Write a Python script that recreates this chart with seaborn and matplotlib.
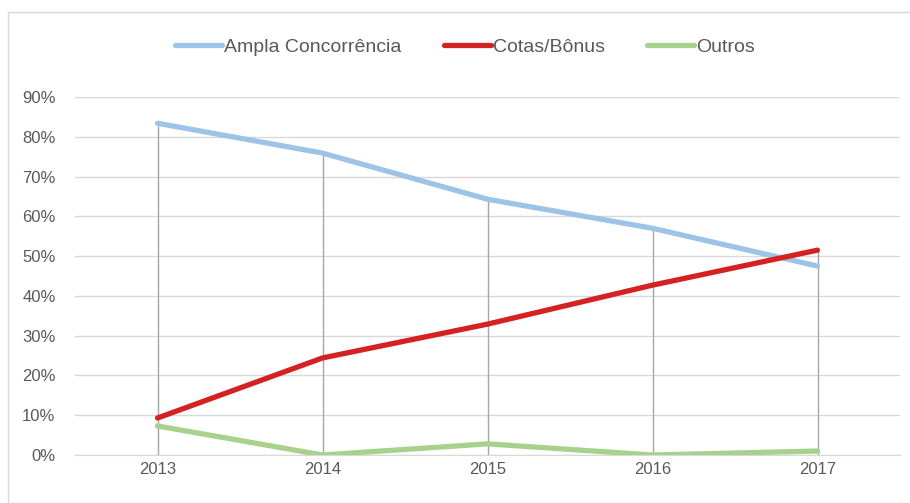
import pandas as pd
import matplotlib.pyplot as plt
import seaborn as sns

anos = [2013, 2014, 2015, 2016, 2017]
ampla = [0.834, 0.759, 0.643, 0.570, 0.475]
cotas = [0.093, 0.244, 0.329, 0.427, 0.515]
outros = [0.073, 0.0, 0.028, 0.0, 0.010]

series = ['Ampla Concorrência', 'Cotas/Bônus', 'Outros']
cores = ['#9DC3E6', '#D42121', '#A9D18E']

df = pd.DataFrame({
    'Ano': anos * 3,
    'Valor': ampla + cotas + outros,
    'Serie': [s for s in series for _ in anos],
})

sns.set_style('white')
plt.rcParams['font.family'] = ['Liberation Sans Narrow', 'Liberation Sans', 'DejaVu Sans']

fig = plt.figure(figsize=(9.1, 5.03), dpi=100)
fig.patches.append(plt.Rectangle((8 / 910, 0), 1, 1 - 12 / 503, transform=fig.transFigure,
                                 fill=False, edgecolor='#D9D9D9', linewidth=1))
ax = fig.add_axes([75 / 910, 1 - 455 / 503, 825 / 910, (455 - 97) / 503])

# linhas de queda (drop lines)
topo = [max(a, c, o) for a, c, o in zip(ampla, cotas, outros)]
ax.vlines(anos, 0, topo, color='#A6A6A6', linewidth=1, zorder=1)

sns.lineplot(data=df, x='Ano', y='Valor', hue='Serie', hue_order=series,
             palette=cores, linewidth=3.8, ax=ax, zorder=3)

ax.set_xlim(2012.5, 2017.5)
ax.set_ylim(0, 0.9)
ax.set_yticks([i / 10 for i in range(10)])
ax.set_yticklabels([f'{i * 10}%' for i in range(10)])
ax.set_xticks(anos)
ax.yaxis.grid(True, color='#D9D9D9', linewidth=1)
ax.set_axisbelow(True)
for s in ['top', 'right', 'left']:
    ax.spines[s].set_visible(False)
ax.spines['bottom'].set_color('#D9D9D9')
ax.tick_params(axis='both', colors='#595959', labelsize=12, length=0)
ax.tick_params(axis='x', pad=5)
ax.tick_params(axis='y', pad=14)
ax.set_xlabel('')
ax.set_ylabel('')

leg = ax.legend(loc='center', bbox_to_anchor=(465 / 910, 1 - 47 / 503), bbox_transform=fig.transFigure,
                ncol=3, frameon=False, fontsize=14, handlelength=2.4, handletextpad=0.1,
                columnspacing=2.2)
for t in leg.get_texts():
    t.set_color('#595959')

plt.savefig('out.png', dpi=100)
